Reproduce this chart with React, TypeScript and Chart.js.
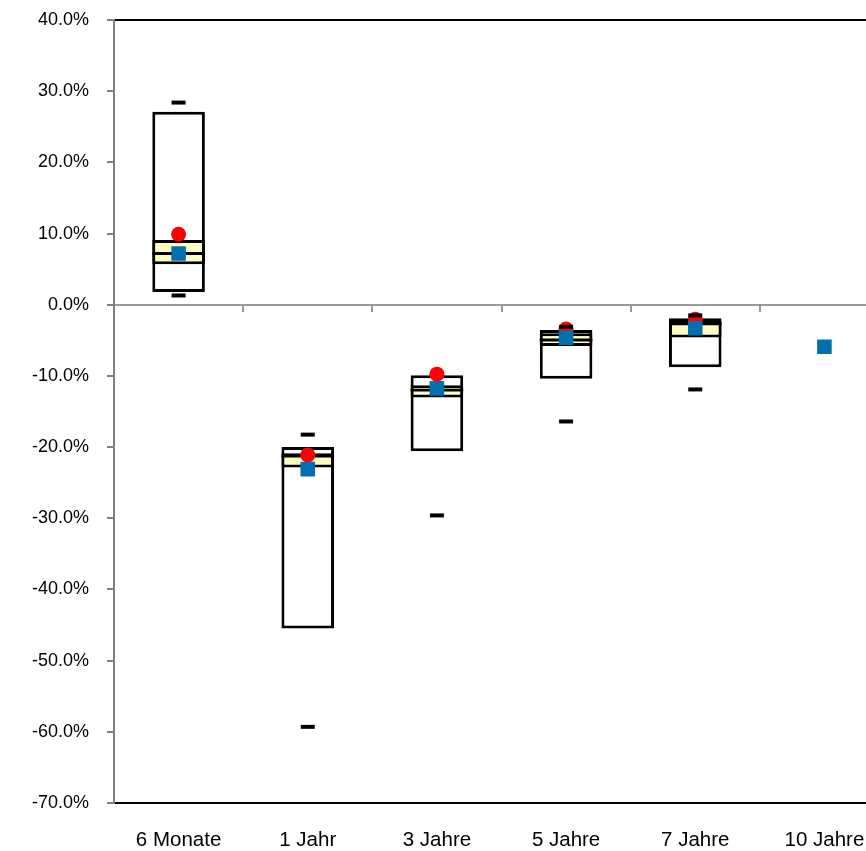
import React, { useEffect, useRef } from 'react';
import { Chart, registerables } from 'chart.js';
Chart.register(...registerables);

const categories = ['6 Monate', '1 Jahr', '3 Jahre', '5 Jahre', '7 Jahre', '10 Jahre'];
const boxLow = [1.8, -45.5, -20.6, -10.4, -8.8, null];
const boxHigh = [27.1, -20.0, -9.9, -3.55, -1.9, null];
const q1 = [5.7, -22.85, -13.05, -5.8, -4.6, null];
const q3 = [9.1, -20.85, -11.3, -4.0, -2.25, null];
const median = [7.2, -21.25, -12.0, -4.95, -2.7, null];
const maxVal = [28.4, -18.25, null, -3.1, -1.5, null];
const minVal = [1.3, -59.3, -29.6, -16.4, -11.9, null];
const redVal = [9.9, -21.1, -9.75, -3.4, -2.05, null];
const blueVal = [7.2, -23.1, -11.75, -4.65, -3.3, -5.9];

const FONT = 'Liberation Sans, Arial, sans-serif';

const pair = (a: (number | null)[], b: (number | null)[]) =>
  a.map((v, i) => (v === null || b[i] === null ? null : [v as number, b[i] as number]));

export default function App() {
  const ref = useRef<HTMLCanvasElement>(null);
  useEffect(() => {
    const canvas = ref.current!;
    const framePlugin = {
      id: 'frame',
      beforeDatasetsDraw(chart: any) {
        const { ctx, chartArea } = chart;
        const { left, right, top, bottom } = chartArea;
        const x = chart.scales.x;
        const y = chart.scales.y;
        ctx.save();
        // zero line with category ticks
        const y0 = Math.round(y.getPixelForValue(0));
        ctx.strokeStyle = '#9a9a9a';
        ctx.lineWidth = 2;
        ctx.beginPath();
        ctx.moveTo(left, y0);
        ctx.lineTo(right, y0);
        for (let i = 1; i < categories.length; i++) {
          const bx = Math.round((x.getPixelForValue(i - 1) + x.getPixelForValue(i)) / 2);
          ctx.moveTo(bx, y0);
          ctx.lineTo(bx, y0 + 7);
        }
        ctx.stroke();
        // frame
        ctx.strokeStyle = '#000';
        ctx.lineWidth = 2;
        ctx.beginPath();
        ctx.moveTo(left, top);
        ctx.lineTo(right, top);
        ctx.lineTo(right, bottom);
        ctx.lineTo(left, bottom);
        ctx.stroke();
        ctx.strokeStyle = '#808080';
        ctx.beginPath();
        ctx.moveTo(left, top - 1);
        ctx.lineTo(left, bottom + 1);
        ctx.stroke();
        ctx.restore();
      },
    };

    const barCommon = {
      type: 'bar' as const,
      grouped: false,
      barPercentage: 0.407,
      categoryPercentage: 1,
      borderSkipped: false,
    };

    const chart = new Chart(canvas, {
      type: 'bar',
      data: {
        labels: categories,
        datasets: [
          {
            ...barCommon,
            label: 'Box',
            data: pair(boxLow, boxHigh) as any,
            backgroundColor: '#ffffff',
            borderColor: '#000000',
            borderWidth: 3,
            order: 10,
          },
          {
            ...barCommon,
            label: 'Band',
            data: pair(q1, q3) as any,
            backgroundColor: '#ffffc0',
            borderColor: '#000000',
            borderWidth: 3,
            order: 9,
          },
          {
            ...barCommon,
            label: 'Median',
            data: median.map((m) => (m === null ? null : [m - 0.2, m + 0.2])) as any,
            backgroundColor: '#000000',
            borderWidth: 0,
            order: 8,
          },
          {
            type: 'line',
            label: 'Rot',
            data: redVal as any,
            showLine: false,
            pointStyle: 'circle',
            pointRadius: 7.5,
            pointBackgroundColor: '#ff0000',
            pointBorderWidth: 0,
            order: 7,
          },
          {
            type: 'line',
            label: 'Max',
            data: maxVal as any,
            showLine: false,
            pointStyle: 'line',
            pointRadius: 7,
            pointBorderColor: '#000000',
            pointBorderWidth: 4,
            order: 6,
          },
          {
            type: 'line',
            label: 'Min',
            data: minVal as any,
            showLine: false,
            pointStyle: 'line',
            pointRadius: 7,
            pointBorderColor: '#000000',
            pointBorderWidth: 4,
            order: 6,
          },
          {
            type: 'line',
            label: 'Blau',
            data: blueVal as any,
            showLine: false,
            pointStyle: 'rect',
            pointRadius: 10.3,
            pointBackgroundColor: '#0070b0',
            pointBorderWidth: 0,
            order: 5,
          },
        ] as any,
      },
      options: {
        responsive: false,
        animation: false,
        events: [],
        layout: { padding: { left: 0, right: 8, top: 20, bottom: 0 } },
        plugins: { legend: { display: false }, tooltip: { enabled: false } },
        scales: {
          x: {
            offset: true,
            grid: { display: false, drawTicks: false },
            border: { display: false },
            ticks: {
              color: '#000',
              font: { family: FONT, size: 20.5 },
              padding: 25,
              maxRotation: 0,
              autoSkip: false,
            },
            afterFit(scale: any) {
              scale.height = 48;
              scale.paddingLeft = 0;
              scale.paddingRight = 0;
            },
          },
          y: {
            min: -70,
            max: 40,
            grid: {
              drawOnChartArea: false,
              drawTicks: true,
              tickLength: 7,
              color: '#808080',
              lineWidth: 2,
            },
            border: { display: true, color: '#808080', width: 2 },
            ticks: {
              stepSize: 10,
              color: '#000',
              font: { family: FONT, size: 18 },
              padding: 18,
              callback: (v: any) => Number(v).toFixed(1) + '%',
            },
            afterFit(scale: any) {
              scale.width = 114;
              scale.paddingTop = 0;
              scale.paddingBottom = 0;
            },
          },
        },
      } as any,
      plugins: [framePlugin],
    });
    return () => chart.destroy();
  }, []);
  return (
    <div
      style={{
        position: 'fixed',
        left: 0,
        top: 0,
        width: 866,
        height: 851,
        overflow: 'hidden',
        background: '#ffffff',
      }}
    >
      <canvas ref={ref} width={900} height={851} style={{ display: 'block' }} />
    </div>
  );
}
